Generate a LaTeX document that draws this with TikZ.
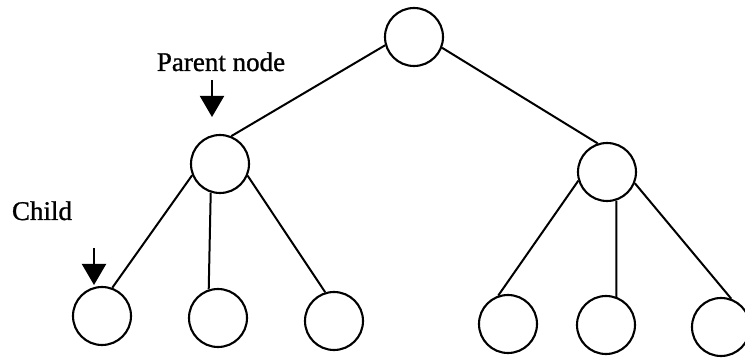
\documentclass[tikz,border=0pt]{standalone}
\usepackage{fontspec}
\setmainfont{Liberation Serif}
\newfontfamily\labelfont{Liberation Serif}[FakeBold=1]
\usetikzlibrary{arrows.meta}

\begin{document}
\begin{tikzpicture}[x=1pt,y=-1pt,
  treenode/.style={circle,draw,line width=2.1pt,minimum size=58pt,inner sep=0pt},
  edge/.style={line width=2pt},
  pointer/.style={line width=2pt,-{Triangle[width=24pt,length=21pt]}},
  caption/.style={anchor=base,inner sep=0pt,font=\labelfont\fontsize{27}{32}\selectfont}]
  \useasboundingbox (0,0) rectangle (745,358);

  % tree nodes
  \node[treenode] (root) at (414,37) {};
  \node[treenode] (lm) at (220,164) {};
  \node[treenode] (rm) at (607,172) {};
  \node[treenode] (c1) at (102,316) {};
  \node[treenode] (c2) at (218,318) {};
  \node[treenode] (c3) at (334,321) {};
  \node[treenode] (c4) at (508,324) {};
  \node[treenode] (c5) at (606,325) {};
  \node[treenode] (c6) at (721,327) {};

  % edges
  \draw[edge] (root.196) -- (lm.68);
  \draw[edge] (root.339) -- (rm.108);
  \draw[edge] (lm.202) -- (c1.70);
  \draw[edge] (lm.252) -- (c2.108);
  \draw[edge] (lm.337) -- (c3.107);
  \draw[edge] (rm.197) -- (c4.109);
  \draw[edge] (rm.288) -- (c5.70);
  \draw[edge] (rm.338) -- (c6.70);

  % labels with pointers
  \node[caption] (parentlbl) at (221,71) {Parent node};
  \node[caption] (childlbl) at (42,220) {Child};
  \coordinate (ptail) at (212,80);
  \coordinate (ptip) at (212,117);
  \coordinate (ctail) at (94,248);
  \coordinate (ctip) at (94,285);
  \draw[pointer] (ptail) -- (ptip);
  \draw[pointer] (ctail) -- (ctip);
\end{tikzpicture}
\end{document}
